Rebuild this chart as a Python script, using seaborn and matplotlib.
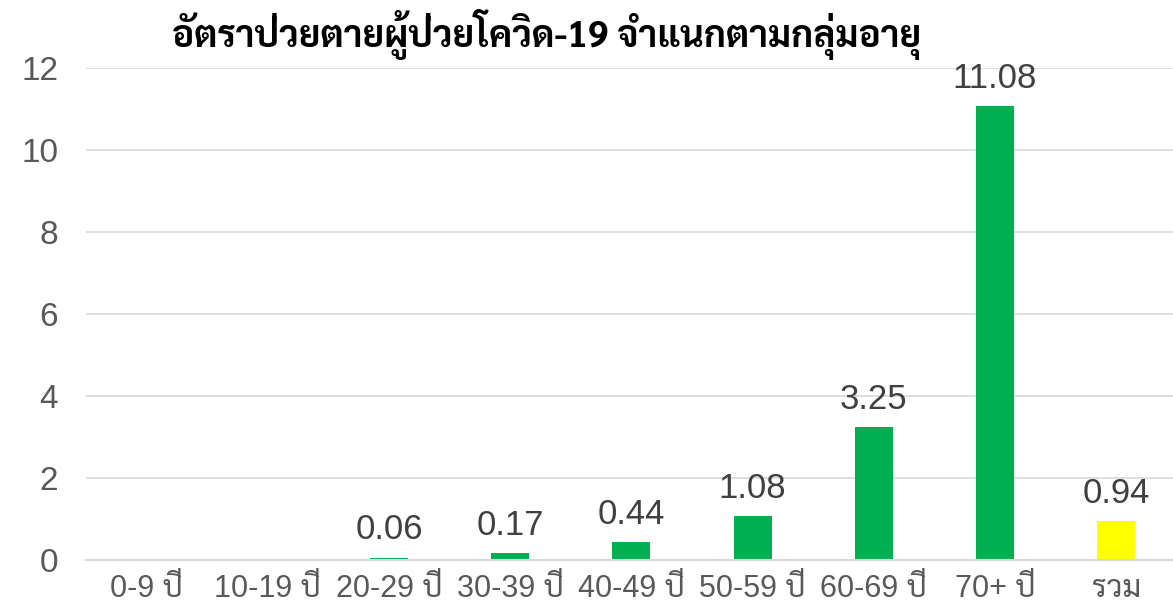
import matplotlib
matplotlib.use("Agg")
import matplotlib.pyplot as plt
from matplotlib import font_manager
import seaborn as sns

# data
categories = ["0-9 ปี", "10-19 ปี", "20-29 ปี", "30-39 ปี", "40-49 ปี",
              "50-59 ปี", "60-69 ปี", "70+ ปี", "รวม"]
death_rate = [0, 0, 0.06, 0.17, 0.44, 1.08, 3.25, 11.08, 0.94]
value_labels = ["", "", "0.06", "0.17", "0.44", "1.08", "3.25", "11.08", "0.94"]
bar_colors = ["#00B050"] * 8 + ["#FFFF00"]
title = "อัตราป่วยตายผู้ป่วยโควิด-19 จำแนกตามกลุ่มอายุ"

sns.set_style("white")

# pick Thai-capable families that are installed (one with a real bold face for the title)
fonts = font_manager.fontManager.ttflist
names = {f.name for f in fonts}
bold_names = {f.name for f in fonts if f.weight in (700, "bold")}
thai_candidates = ["Sarabun", "Noto Sans Thai", "Noto Sans Thai UI", "Anuphan",
                   "Bai Jamjuree", "Athiti"]
thai_font = next((n for n in thai_candidates if n in names), "DejaVu Sans")
title_font = next((n for n in thai_candidates if n in bold_names), thai_font)
plt.rcParams["font.family"] = ["Liberation Sans", thai_font, "DejaVu Sans"]

fig = plt.figure(figsize=(11.73, 6.12), dpi=100)
ax = fig.add_axes([86 / 1173, 52 / 612, 1 - 86 / 1173, 492 / 612])

sns.barplot(x=categories, y=death_rate, hue=categories, palette=bar_colors,
            legend=False, width=0.314, saturation=1, linewidth=0, ax=ax)

for cont, lab in zip(ax.containers, value_labels):
    ax.bar_label(cont, labels=[lab], padding=8, fontsize=25, color="#404040")

ax.set_ylim(0, 12)
ax.set_yticks(range(0, 13, 2))
ax.set_xlim(-0.5, -0.5 + (1173 - 86) / 121.2)
ax.yaxis.grid(True, color="#D9D9D9", linewidth=1.2)
ax.set_axisbelow(True)
for side in ["top", "right", "left"]:
    ax.spines[side].set_visible(False)
ax.spines["bottom"].set_color("#D9D9D9")
ax.spines["bottom"].set_linewidth(1.5)

ax.tick_params(axis="y", length=0, pad=20, labelsize=24, labelcolor="#595959")
ax.tick_params(axis="x", length=0, pad=10, labelsize=22, labelcolor="#595959")
ax.set_xlabel("")
ax.set_ylabel("")

fig.text(547 / 1173, 1 - 34 / 612, title, ha="center", va="center", fontsize=26.5,
         fontweight="bold", family=[title_font, "DejaVu Sans"], color="black")

fig.savefig("out.png", dpi=100)
